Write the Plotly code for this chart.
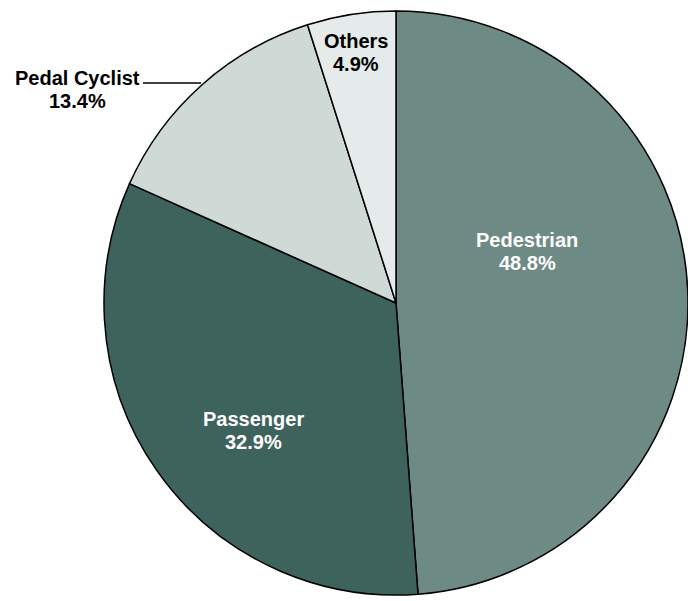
import plotly.graph_objects as go

# Share of fatalities by person type
categories = ["Pedestrian", "Passenger", "Pedal Cyclist", "Others"]
shares = [48.8, 32.9, 13.4, 4.9]
slice_colors = ["#6e8a84", "#3e625c", "#cfd9d6", "#e5eaea"]
text_colors = ["white", "white", "black", "black"]

W, H = 688, 601


def px(x):
    return x / W


def py(y):
    return 1 - y / H


fig = go.Figure(
    go.Pie(
        labels=categories,
        values=shares,
        sort=False,
        direction="clockwise",
        rotation=0,
        marker=dict(colors=slice_colors, line=dict(color="black", width=1.5)),
        textinfo="none",
        hoverinfo="label+percent",
        showlegend=False,
        domain=dict(x=[px(104), px(688)], y=[py(595), py(11)]),
    )
)

# Label centre (pixels) of the category line; the percentage sits one line below
label_pos = {
    "Pedestrian": (527, 240),
    "Passenger": (253, 419),
    "Pedal Cyclist": (77, 78),
    "Others": (356, 41),
}
line_gap = 23
label_font = dict(family="Liberation Sans, Arial, sans-serif", size=20, weight="bold")

for cat, val, tc in zip(categories, shares, text_colors):
    x, y = label_pos[cat]
    for i, txt in enumerate([cat, f"{val:.1f}%"]):
        fig.add_annotation(
            x=px(x), y=py(y + i * line_gap), xref="paper", yref="paper",
            xanchor="center", yanchor="middle",
            text=txt, showarrow=False,
            font=dict(label_font, color=tc),
        )

# Leader line for the outside label
fig.add_shape(type="line", xref="paper", yref="paper",
              x0=px(143), y0=py(83), x1=px(201), y1=py(83),
              line=dict(color="black", width=1.5))

fig.update_layout(
    width=W, height=H,
    margin=dict(l=0, r=0, t=0, b=0),
    paper_bgcolor="white",
    plot_bgcolor="white",
)

fig.write_html("out.html")
